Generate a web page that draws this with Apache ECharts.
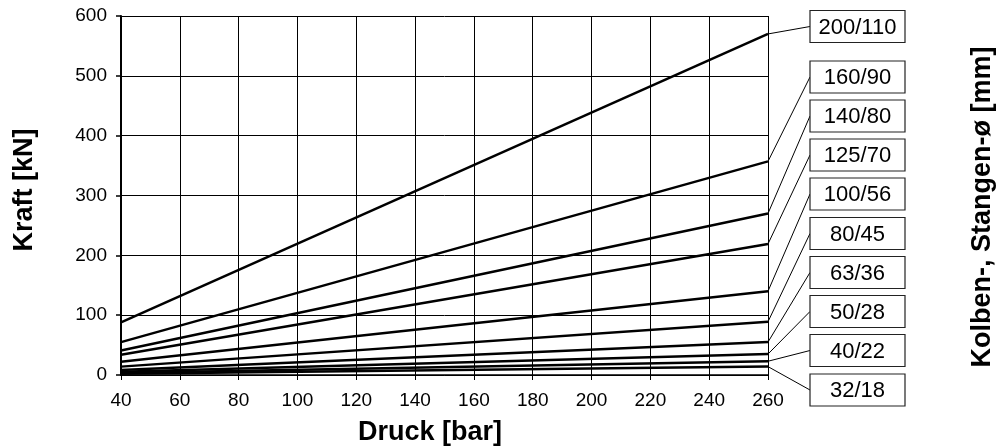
<!DOCTYPE html>
<html>
<head>
<meta charset="utf-8">
<script src="https://cdn.jsdelivr.net/npm/echarts@6/dist/echarts.min.js"></script>
<style>
html,body{margin:0;padding:0;background:#fff;}
#chart{width:1006px;height:447px;}
</style>
</head>
<body>
<div id="chart"></div>
<script>
// ---- data ----
const sizes     = ['200/110','160/90','140/80','125/70','100/56','80/45','63/36','50/28','40/22','32/18'];
const pressures = [40, 260];                       // bar, line endpoints
const force40   = [88, 55, 41, 34, 22, 14, 8.5, 5.5, 3.5, 2.2];      // kN at 40 bar
const force260  = [570, 357, 270, 219, 140, 89, 55, 35, 23, 14];     // kN at 260 bar
const xTicks    = [40, 60, 80, 100, 120, 140, 160, 180, 200, 220, 240, 260];
const yTicks    = [0, 100, 200, 300, 400, 500, 600];

// ---- layout (label box centres, px) ----
const boxCenters = [26.5, 77, 116, 155, 194, 233.5, 272.5, 311.5, 350.5, 390];
const FONT = '"Liberation Sans", Arial, sans-serif';

const chart = echarts.init(document.getElementById('chart'), null, {renderer:'canvas'});

const series = sizes.map((s, i) => ({
  name: s,
  type: 'line',
  data: [[pressures[0], force40[i]], [pressures[1], force260[i]]],
  showSymbol: false,
  silent: true,
  lineStyle: {color: '#000', width: 2.5},
  z: 5
}));

chart.setOption({
  animation: false,
  grid: {left: 121, right: 238, top: 16, bottom: 72},
  xAxis: {
    type: 'value', min: xTicks[0], max: xTicks[xTicks.length-1], interval: 20,
    axisLine: {show: true, onZero: false, lineStyle: {color: '#000', width: 1.5}},
    axisTick: {show: true, inside: false, length: 5, lineStyle: {color: '#000', width: 1}},
    axisLabel: {color: '#000', fontSize: 19, fontFamily: FONT, margin: 16},
    splitLine: {show: true, lineStyle: {color: '#000', width: 1}}
  },
  yAxis: {
    type: 'value', min: yTicks[0], max: yTicks[yTicks.length-1], interval: 100,
    axisLine: {show: true, lineStyle: {color: '#000', width: 2}},
    axisTick: {show: true, inside: false, length: 5, lineStyle: {color: '#000', width: 1.5}},
    axisLabel: {color: '#000', fontSize: 19, fontFamily: FONT, margin: 14},
    splitLine: {show: true, lineStyle: {color: '#000', width: 1}}
  },
  series: series
});

const g = [];
// axis titles
g.push({type:'text', x: 25, y: 190, rotation: Math.PI/2,
  style:{text:'Kraft [kN]', font:'bold 27px ' + FONT, fill:'#000', align:'center', verticalAlign:'middle'}});
g.push({type:'text', x: 430, y: 433,
  style:{text:'Druck [bar]', font:'bold 27px ' + FONT, fill:'#000', align:'center', verticalAlign:'middle'}});
g.push({type:'text', x: 983, y: 207, rotation: Math.PI/2,
  style:{text:'Kolben-, Stangen-ø [mm]', font:'bold 27px ' + FONT, fill:'#000', align:'center', verticalAlign:'middle'}});

const boxLeft = 810, boxW = 95, boxH = 32;
sizes.forEach((s, i) => {
  const p = chart.convertToPixel({gridIndex: 0}, [pressures[1], force260[i]]);
  const cy = boxCenters[i];
  g.push({type:'line', z: 10, shape:{x1: p[0], y1: p[1], x2: boxLeft, y2: cy},
    style:{stroke:'#000', lineWidth: 1}});
  g.push({type:'rect', z: 11, shape:{x: boxLeft, y: cy - boxH/2, width: boxW, height: boxH},
    style:{fill:'#fff', stroke:'#222', lineWidth: 1.2}});
  g.push({type:'text', z: 12, x: boxLeft + boxW/2, y: cy + 1,
    style:{text: s, font: '22px ' + FONT, fill:'#000', align:'center', verticalAlign:'middle'}});
});
chart.setOption({graphic: g});
</script>
</body>
</html>
